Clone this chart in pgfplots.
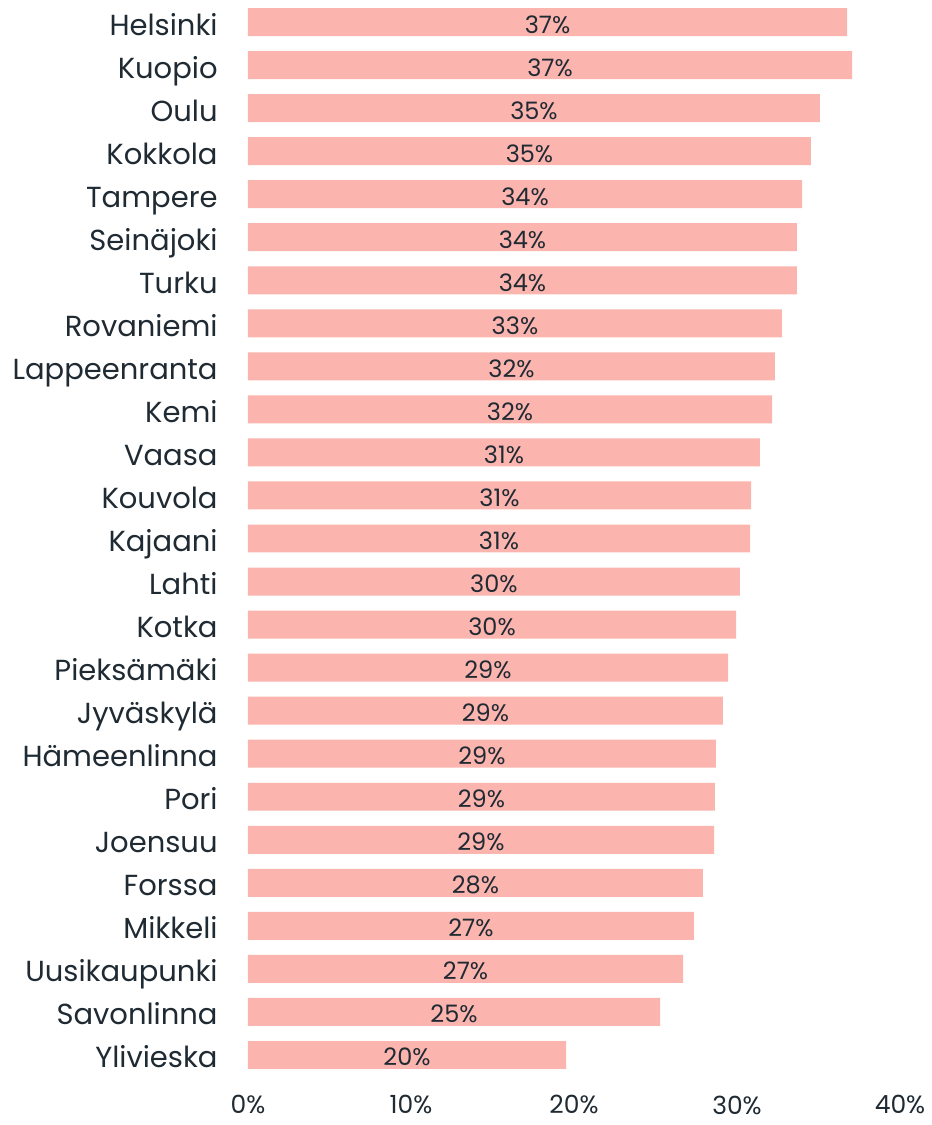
\documentclass[border=0pt]{standalone}
\usepackage{fontspec}
\setmainfont{Poppins}
\usepackage{pgfplots}
\usepackage{pgfplotstable}
\pgfplotsset{compat=1.18}
\usetikzlibrary{calc}
\definecolor{barc}{HTML}{FBB4AE}
\definecolor{txt}{HTML}{1F2A33}
\pgfplotstableread[col sep=comma]{
idx,val,half,lab
0,36.75,18.375,37\%
1,37.06,18.53,37\%
2,35.09,17.545,35\%
3,34.54,17.27,35\%
4,33.99,16.995,34\%
5,33.68,16.84,34\%
6,33.68,16.84,34\%
7,32.76,16.38,33\%
8,32.33,16.165,32\%
9,32.15,16.075,32\%
10,31.41,15.705,31\%
11,30.86,15.43,31\%
12,30.80,15.40,31\%
13,30.18,15.09,30\%
14,29.94,14.97,30\%
15,29.45,14.725,29\%
16,29.14,14.57,29\%
17,28.71,14.355,29\%
18,28.65,14.325,29\%
19,28.59,14.295,29\%
20,27.91,13.955,28\%
21,27.36,13.68,27\%
22,26.69,13.345,27\%
23,25.28,12.64,25\%
24,19.51,9.755,20\%
}\datatable
\begin{document}
\begin{tikzpicture}
\begin{axis}[
  name=ax,
  scale only axis,
  width=326pt, height=538pt,
  xbar, bar width=0.65,
  y dir=reverse,
  ymin=-0.5, ymax=24.5,
  xmin=0, xmax=40,
  axis line style={draw=none},
  major tick length=0pt,
  xtick={0,10,20,30,40},
  xticklabels={0\%,10\%,20\%,30\%,40\%},
  xticklabel style={font=\fontsize{12.5}{14}\selectfont, text=txt, yshift=-6pt},
  ytick={0,...,24},
  yticklabels={Helsinki,Kuopio,Oulu,Kokkola,Tampere,Seinäjoki,Turku,Rovaniemi,Lappeenranta,Kemi,Vaasa,Kouvola,Kajaani,Lahti,Kotka,Pieksämäki,Jyväskylä,Hämeenlinna,Pori,Joensuu,Forssa,Mikkeli,Uusikaupunki,Savonlinna,Ylivieska},
  yticklabel style={font=\fontsize{14.5}{16}\selectfont, text=txt, anchor=base east, xshift=-15pt, yshift=-6.5pt, inner sep=0pt},
  clip=false,
]
\addplot[fill=barc, draw=none] table[x=val, y=idx] {\datatable};
\addplot[only marks, mark=none, nodes near coords, point meta=explicit symbolic,
  nodes near coords align=center,
  every node near coord/.append style={font=\fontsize{12}{14}\selectfont, text=txt, anchor=base, yshift=-5.5pt, inner sep=0pt}]
  table[x=half, y=idx, meta=lab] {\datatable};
\end{axis}
\path[use as bounding box] ($(ax.south west)+(-124pt,-24.25pt)$) rectangle ($(ax.north east)+(13.5pt,0.25pt)$);
\end{tikzpicture}
\end{document}
